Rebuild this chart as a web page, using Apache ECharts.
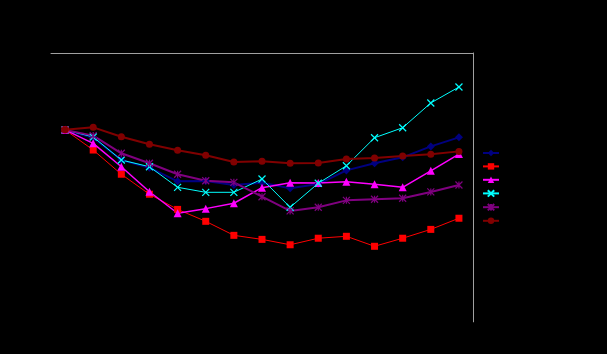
<!DOCTYPE html>
<html>
<head>
<meta charset="utf-8">
<script src="https://cdn.jsdelivr.net/npm/echarts@6/dist/echarts.min.js"></script>
<style>
html,body{margin:0;padding:0;background:#000;}
#chart{width:607px;height:354px;}
</style>
</head>
<body>
<div id="chart"></div>
<script>
var categories = ['1','2','3','4','5','6','7','8','9','10','11','12','13','14','15'];
var seriesNames = ['Series1','Series2','Series3','Series4','Series5','Series6'];
var navyValues    = [100, 95.9, 84.3, 80.3, 73.2, 73.4, 71.3, 72.5, 69.6, 71.8, 78.9, 82.6, 85.7, 91.4, 96.1];
var redValues     = [100, 89.5, 76.9, 66.5, 58.6, 52.4, 45.1, 43.0, 40.2, 43.6, 44.6, 39.4, 43.6, 48.2, 54.0];
var magentaValues = [100, 93.0, 80.8, 67.8, 56.6, 59.0, 61.8, 69.9, 72.5, 72.3, 73.0, 71.7, 70.1, 78.7, 87.4];
var cyanValues    = [100, 96.3, 84.3, 80.8, 70.1, 67.5, 67.5, 74.4, 59.7, 72.2, 81.3, 95.9, 101.1, 114.0, 122.3];
var purpleValues  = [100, 97.0, 87.8, 82.6, 76.9, 73.5, 72.7, 65.2, 57.8, 59.7, 63.3, 63.9, 64.4, 67.7, 71.3];
var darkRedValues = [100, 101.3, 96.4, 92.5, 89.4, 86.8, 83.3, 83.6, 82.6, 82.7, 84.8, 85.3, 86.4, 87.3, 88.8];

var chart = echarts.init(document.getElementById('chart'), null, {renderer: 'canvas'});

function mk(name, data, color, symbol, size, width, stroke) {
  var s = {
    name: name, type: 'line', data: data,
    xAxisIndex: 0, yAxisIndex: 0,
    symbol: symbol, symbolSize: size, showSymbol: true,
    lineStyle: {color: color, width: width},
    itemStyle: {color: color},
    animation: false
  };
  if (stroke) {
    s.itemStyle = {color: color, borderColor: color, borderWidth: 1.2};
  }
  return s;
}

var option = {
  backgroundColor: '#000000',
  animation: false,
  grid: {left: 51, top: 53, width: 422, height: 269, containLabel: false},
  legend: {
    orient: 'vertical', left: 477, top: 144,
    itemWidth: 16, itemHeight: 8, itemGap: 5.4,
    textStyle: {color: '#000000', fontSize: 8, lineHeight: 8, fontFamily: 'Liberation Sans'},
    data: seriesNames
  },
  xAxis: [
    {type: 'category', data: categories, boundaryGap: true, position: 'bottom',
     axisLine: {show: true, onZero: false, lineStyle: {color: '#000000'}}, axisTick: {show: false}, axisLabel: {show: false}, splitLine: {show: false}},
    {type: 'category', data: categories, boundaryGap: true, position: 'top',
     axisLine: {show: true, onZero: false, lineStyle: {color: '#a0a0a0', width: 1}}, axisTick: {show: false}, axisLabel: {show: false}, splitLine: {show: false}}
  ],
  yAxis: [
    {type: 'value', min: 0, max: 140, interval: 20, position: 'left',
     axisLine: {show: true, onZero: false, lineStyle: {color: '#000000'}}, axisTick: {show: false}, axisLabel: {show: false}, splitLine: {show: false}},
    {type: 'value', min: 0, max: 140, interval: 20, position: 'right',
     axisLine: {show: true, onZero: false, lineStyle: {color: '#a0a0a0', width: 1}}, axisTick: {show: false}, axisLabel: {show: false}, splitLine: {show: false}}
  ],
  series: [
    mk(seriesNames[0], navyValues, '#000080', 'diamond', 8, 2, false),
    mk(seriesNames[1], redValues, '#ff0000', 'rect', 7, 1, false),
    mk(seriesNames[2], magentaValues, '#ff00ff', 'triangle', 8, 1.5, false),
    mk(seriesNames[3], cyanValues, '#00ffff', 'path://M0,0L10,10M10,0L0,10', 7, 1, true),
    mk(seriesNames[4], purpleValues, '#800080', 'path://M0,0L10,10M10,0L0,10M5,0L5,10', 7, 2, true),
    mk(seriesNames[5], darkRedValues, '#800000', 'circle', 7, 2, false)
  ]
};
chart.setOption(option);
</script>
</body>
</html>
